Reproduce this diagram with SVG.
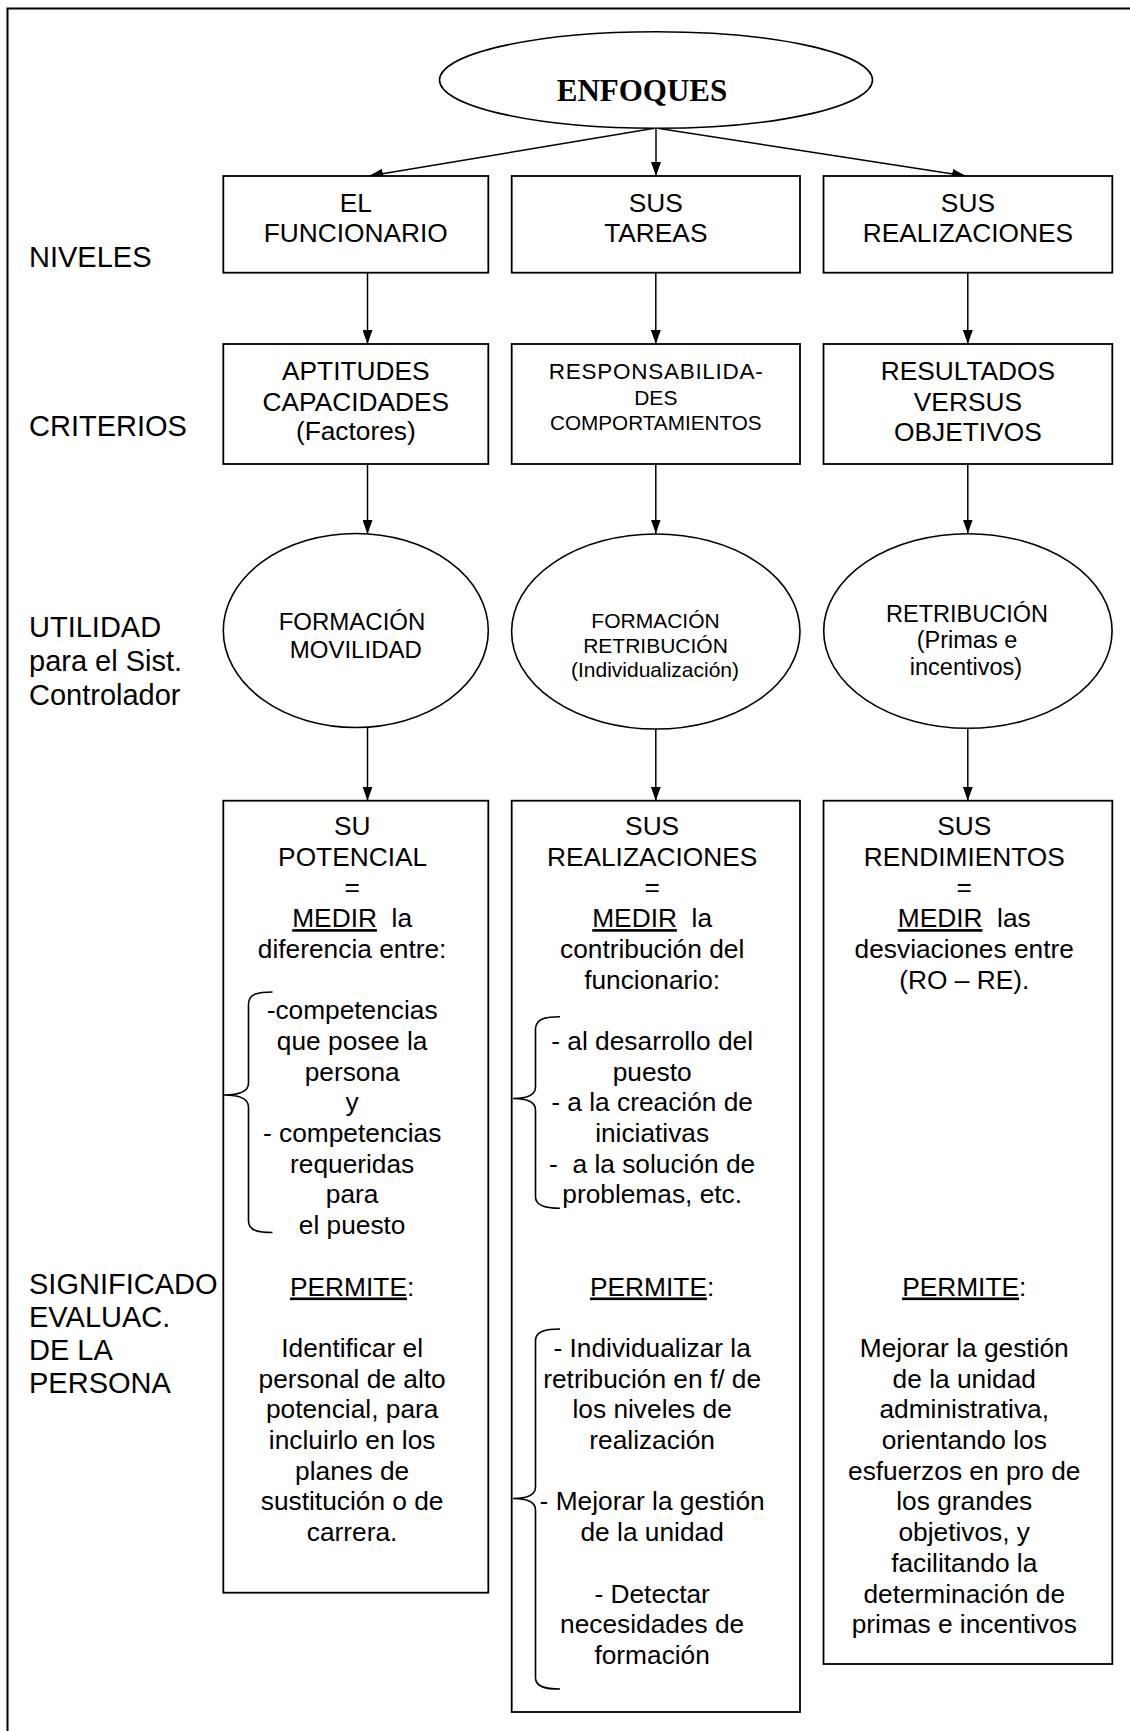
<svg xmlns="http://www.w3.org/2000/svg" width="1130" height="1731" viewBox="0 0 1130 1731">
<style>
.t{font-family:"Liberation Sans",Arial,sans-serif;fill:#000;text-anchor:middle;white-space:pre}
.lbl{font-family:"Liberation Sans",Arial,sans-serif;fill:#000;font-size:29px}
.b{fill:#fff;stroke:#000;stroke-width:1.8}
.e{fill:#fff;stroke:#000;stroke-width:1.6}
.c{fill:none;stroke:#000;stroke-width:1.5}
.br{fill:none;stroke:#000;stroke-width:1.6}
.u{text-decoration:underline}
.f26{font-size:26.3px}
</style>
<defs>
<marker id="ah" markerUnits="userSpaceOnUse" markerWidth="14" markerHeight="10" refX="14" refY="5" orient="auto">
<path d="M0,0 L14,5 L0,10 z" fill="#000"/>
</marker>
</defs>
<rect x="0" y="0" width="1130" height="1731" fill="#fff"/>
<path d="M7.5 1740 L7.5 8.5 L1140 8.5" fill="none" stroke="#000" stroke-width="2"/>

<g id="labels">
<text class="lbl" x="29" y="266.7">NIVELES</text>
<text class="lbl" x="29" y="435.5">CRITERIOS</text>
<text class="lbl" x="29" y="637">UTILIDAD</text>
<text class="lbl" x="29" y="671">para el Sist.</text>
<text class="lbl" x="29" y="705">Controlador</text>
<text class="lbl" x="29" y="1293.5">SIGNIFICADO</text>
<text class="lbl" x="29" y="1326.8">EVALUAC.</text>
<text class="lbl" x="29" y="1360">DE LA</text>
<text class="lbl" x="29" y="1393">PERSONA</text>
</g>

<g id="connectors">
<line class="c" x1="656" y1="128" x2="369" y2="176" marker-end="url(#ah)"/>
<line class="c" x1="656" y1="128" x2="656" y2="176" marker-end="url(#ah)"/>
<line class="c" x1="656" y1="128" x2="966" y2="176" marker-end="url(#ah)"/>
<line class="c" x1="367.5" y1="272.7" x2="367.5" y2="344" marker-end="url(#ah)"/>
<line class="c" x1="655.8" y1="272.7" x2="655.8" y2="344" marker-end="url(#ah)"/>
<line class="c" x1="967.8" y1="272.7" x2="967.8" y2="344" marker-end="url(#ah)"/>
<line class="c" x1="367.5" y1="464" x2="367.5" y2="534" marker-end="url(#ah)"/>
<line class="c" x1="655.8" y1="464" x2="655.8" y2="533.5" marker-end="url(#ah)"/>
<line class="c" x1="967.8" y1="464" x2="967.8" y2="533.5" marker-end="url(#ah)"/>
<line class="c" x1="367.5" y1="727" x2="367.5" y2="800.7" marker-end="url(#ah)"/>
<line class="c" x1="655.8" y1="728.5" x2="655.8" y2="800.7" marker-end="url(#ah)"/>
<line class="c" x1="967.8" y1="728.5" x2="967.8" y2="800.7" marker-end="url(#ah)"/>
</g>

<g id="enfoques">
<ellipse class="e" cx="656" cy="80" rx="216.5" ry="48.3"/>
<text x="642" y="101" style="font-family:'Liberation Serif','Times New Roman',serif;font-weight:bold;font-size:31px;text-anchor:middle">ENFOQUES</text>
</g>

<g id="n-funcionario">
<rect class="b" x="223.3" y="176" width="265" height="96.7"/>
<text class="t f26"><tspan x="355.8" y="212">EL</tspan><tspan x="355.8" y="242">FUNCIONARIO</tspan></text>
</g>
<g id="n-tareas">
<rect class="b" x="511.7" y="176" width="288.3" height="96.7"/>
<text class="t f26"><tspan x="655.8" y="212">SUS</tspan><tspan x="655.8" y="242">TAREAS</tspan></text>
</g>
<g id="n-realizaciones">
<rect class="b" x="823.5" y="176" width="288.8" height="96.7"/>
<text class="t f26"><tspan x="967.9" y="212">SUS</tspan><tspan x="967.9" y="242">REALIZACIONES</tspan></text>
</g>

<g id="n-aptitudes">
<rect class="b" x="223.3" y="344" width="265" height="120"/>
<text class="t f26"><tspan x="355.8" y="380">APTITUDES</tspan><tspan x="355.8" y="410.5">CAPACIDADES</tspan><tspan x="355.8" y="440">(Factores)</tspan></text>
</g>
<g id="n-responsabilidades">
<rect class="b" x="511.7" y="344" width="288.3" height="120"/>
<text class="t" style="font-size:22.5px" x="655.8" y="378.5" textLength="214" lengthAdjust="spacing">RESPONSABILIDA-</text>
<text class="t" style="font-size:21px"><tspan x="655.8" y="405">DES</tspan></text>
<text class="t" style="font-size:20.7px"><tspan x="655.8" y="429.5">COMPORTAMIENTOS</tspan></text>
</g>
<g id="n-resultados">
<rect class="b" x="823.5" y="344" width="288.8" height="120"/>
<text class="t f26"><tspan x="967.9" y="380">RESULTADOS</tspan><tspan x="967.9" y="410.5">VERSUS</tspan><tspan x="967.9" y="441">OBJETIVOS</tspan></text>
</g>

<g id="n-formacion-movilidad">
<ellipse class="e" cx="355.8" cy="630.5" rx="132.5" ry="97"/>
<text class="t" style="font-size:24px"><tspan x="352" y="630">FORMACIÓN</tspan><tspan x="355.8" y="658.3">MOVILIDAD</tspan></text>
</g>
<g id="n-formacion-retribucion">
<ellipse class="e" cx="655.8" cy="631.5" rx="144.2" ry="97.5"/>
<text class="t" style="font-size:21px"><tspan x="655.5" y="628.3">FORMACIÓN</tspan><tspan x="655.5" y="653.3">RETRIBUCIÓN</tspan><tspan x="655" y="676.7">(Individualización)</tspan></text>
</g>
<g id="n-retribucion">
<ellipse class="e" cx="967.9" cy="631" rx="144.2" ry="97.3"/>
<text class="t" style="font-size:23.5px"><tspan x="967" y="621.7">RETRIBUCIÓN</tspan><tspan x="967" y="648.3">(Primas e</tspan><tspan x="966" y="675">incentivos)</tspan></text>
</g>

<g id="n-potencial">
<rect class="b" x="223.3" y="800.7" width="265" height="792"/>
<path class="br" d="M272.5 992 C259 992 248.5 993.5 248.5 1004 L248.5 1083 C248.5 1092 237 1095 224 1095 C237 1095 248.5 1098 248.5 1107 L248.5 1221 C248.5 1231 259 1232.5 272.5 1232.5"/>
<text class="t f26">
<tspan x="355.8" y="835">SU</tspan>
<tspan x="355.8" y="865.7">POTENCIAL</tspan>
<tspan x="355.8" y="896.4">=</tspan>
<tspan x="355.8" y="927.1"><tspan class="u">MEDIR</tspan>  la</tspan>
<tspan x="355.8" y="957.8">diferencia entre:</tspan>
<tspan x="355.8" y="1019.2">-competencias</tspan>
<tspan x="355.8" y="1049.9">que posee la</tspan>
<tspan x="355.8" y="1080.6">persona</tspan>
<tspan x="355.8" y="1111.3">y</tspan>
<tspan x="355.8" y="1142">- competencias</tspan>
<tspan x="355.8" y="1172.7">requeridas</tspan>
<tspan x="355.8" y="1203.4">para</tspan>
<tspan x="355.8" y="1234.1">el puesto</tspan>
<tspan x="355.8" y="1295.5"><tspan class="u">PERMITE</tspan>:</tspan>
<tspan x="355.8" y="1356.9">Identificar el</tspan>
<tspan x="355.8" y="1387.6">personal de alto</tspan>
<tspan x="355.8" y="1418.3">potencial, para</tspan>
<tspan x="355.8" y="1449">incluirlo en los</tspan>
<tspan x="355.8" y="1479.7">planes de</tspan>
<tspan x="355.8" y="1510.4">sustitución o de</tspan>
<tspan x="355.8" y="1541.1">carrera.</tspan>
</text>
</g>

<g id="n-sus-realizaciones">
<rect class="b" x="511.7" y="800.7" width="288.3" height="911.3"/>
<path class="br" d="M560 1016.7 C546 1016.7 535.5 1018.5 535.5 1029 L535.5 1087 C535.5 1096 525 1098.5 513 1098.5 C525 1098.5 535.5 1101 535.5 1110 L535.5 1197 C535.5 1206 546 1208.3 560 1208.3"/>
<path class="br" d="M560 1329 C546 1329 535.5 1331 535.5 1341 L535.5 1487 C535.5 1496 525 1498.5 513 1498.5 C525 1498.5 535.5 1501 535.5 1510 L535.5 1678 C535.5 1687 546 1689 560 1689"/>
<text class="t f26">
<tspan x="655.8" y="835">SUS</tspan>
<tspan x="655.8" y="865.7">REALIZACIONES</tspan>
<tspan x="655.8" y="896.4">=</tspan>
<tspan x="655.8" y="927.1"><tspan class="u">MEDIR</tspan>  la</tspan>
<tspan x="655.8" y="957.8">contribución del</tspan>
<tspan x="655.8" y="988.5">funcionario:</tspan>
<tspan x="655.8" y="1049.9">- al desarrollo del</tspan>
<tspan x="655.8" y="1080.6">puesto</tspan>
<tspan x="655.8" y="1111.3">- a la creación de</tspan>
<tspan x="655.8" y="1142">iniciativas</tspan>
<tspan x="655.8" y="1172.7">-  a la solución de</tspan>
<tspan x="655.8" y="1203.4">problemas, etc.</tspan>
<tspan x="655.8" y="1295.5"><tspan class="u">PERMITE</tspan>:</tspan>
<tspan x="655.8" y="1356.9">- Individualizar la</tspan>
<tspan x="655.8" y="1387.6">retribución en f/ de</tspan>
<tspan x="655.8" y="1418.3">los niveles de</tspan>
<tspan x="655.8" y="1449">realización</tspan>
<tspan x="655.8" y="1510.4">- Mejorar la gestión</tspan>
<tspan x="655.8" y="1541.1">de la unidad</tspan>
<tspan x="655.8" y="1602.5">- Detectar</tspan>
<tspan x="655.8" y="1633.2">necesidades de</tspan>
<tspan x="655.8" y="1663.9">formación</tspan>
</text>
</g>

<g id="n-rendimientos">
<rect class="b" x="823.5" y="800.7" width="288.8" height="863.3"/>
<text class="t f26">
<tspan x="967.9" y="835">SUS</tspan>
<tspan x="967.9" y="865.7">RENDIMIENTOS</tspan>
<tspan x="967.9" y="896.4">=</tspan>
<tspan x="967.9" y="927.1"><tspan class="u">MEDIR</tspan>  las</tspan>
<tspan x="967.9" y="957.8">desviaciones entre</tspan>
<tspan x="967.9" y="988.5">(RO – RE).</tspan>
<tspan x="967.9" y="1295.5"><tspan class="u">PERMITE</tspan>:</tspan>
<tspan x="967.9" y="1356.9">Mejorar la gestión</tspan>
<tspan x="967.9" y="1387.6">de la unidad</tspan>
<tspan x="967.9" y="1418.3">administrativa,</tspan>
<tspan x="967.9" y="1449">orientando los</tspan>
<tspan x="967.9" y="1479.7">esfuerzos en pro de</tspan>
<tspan x="967.9" y="1510.4">los grandes</tspan>
<tspan x="967.9" y="1541.1">objetivos, y</tspan>
<tspan x="967.9" y="1571.8">facilitando la</tspan>
<tspan x="967.9" y="1602.5">determinación de</tspan>
<tspan x="967.9" y="1633.2">primas e incentivos</tspan>
</text>
</g>
</svg>
